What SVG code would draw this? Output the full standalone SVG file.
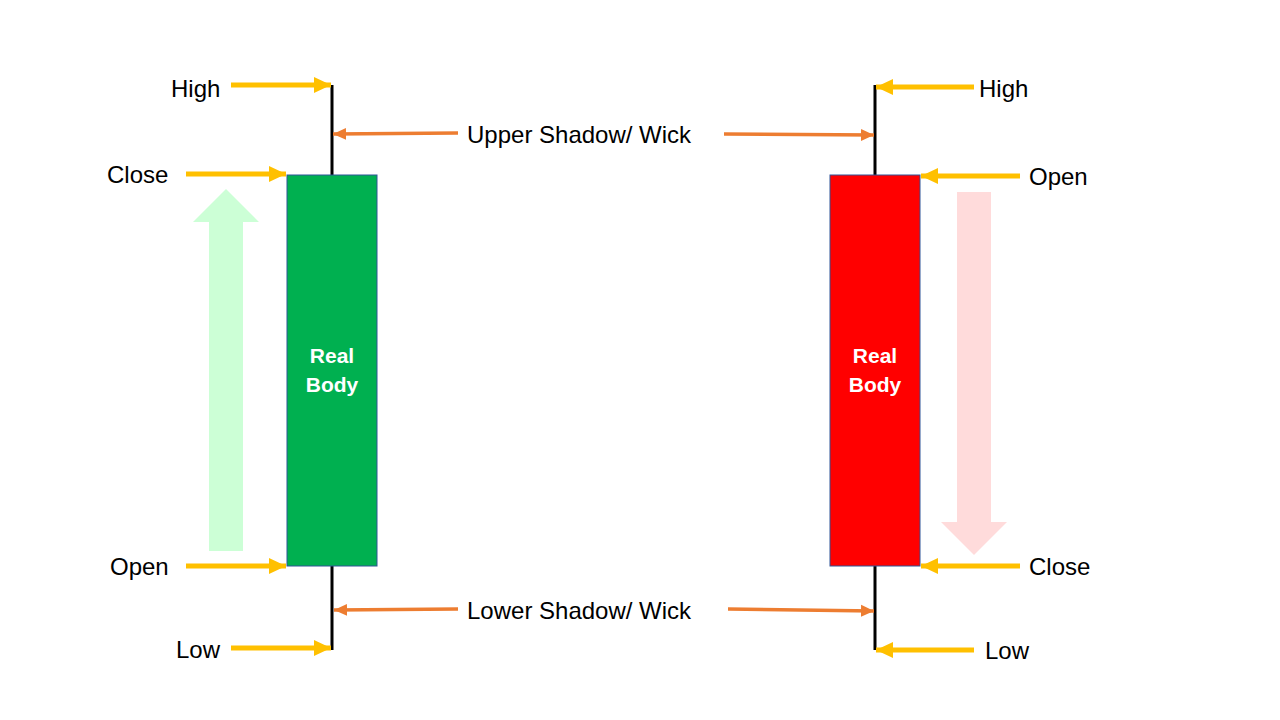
<svg xmlns="http://www.w3.org/2000/svg" width="1280" height="720" viewBox="0 0 1280 720">
<defs>
<marker id="ya" markerUnits="userSpaceOnUse" markerWidth="18" markerHeight="18" refX="17" refY="9" orient="auto"><path d="M0,1 L17,9 L0,17 Z" fill="#FFC000"/></marker>
<marker id="oa" markerUnits="userSpaceOnUse" markerWidth="14" markerHeight="14" refX="13" refY="7" orient="auto"><path d="M0,1 L13,7 L0,13 Z" fill="#ED7D31"/></marker>
</defs>
<style>
.t{font-family:"Liberation Sans",Arial,sans-serif;font-size:24px;fill:#000}
.b{font-family:"Liberation Sans",Arial,sans-serif;font-size:21px;font-weight:bold;fill:#fff;text-anchor:middle}
.y{stroke:#FFC000;stroke-width:5;fill:none;marker-end:url(#ya)}
.o{stroke:#ED7D31;stroke-width:3.5;fill:none;marker-end:url(#oa)}
.w{stroke:#000;stroke-width:3}
</style>
<rect width="1280" height="720" fill="#fff"/>
<g id="bull-direction"><path d="M209,551 V222 H193 L226,189 L259,222 H243 V551 Z" fill="#CCFFD6"/></g>
<g id="bear-direction"><path d="M957,192 V522 H941 L974,555 L1007,522 H991 V192 Z" fill="#FFDBDB"/></g>
<g id="bull-candle">
<line class="w" x1="332" y1="85" x2="332" y2="650"/>
<rect x="287" y="175" width="90" height="391" fill="#00B050" stroke="#2F5597" stroke-width="1"/>
<text class="b" x="332" y="363">Real</text><text class="b" x="332" y="392">Body</text>
</g>
<g id="bear-candle">
<line class="w" x1="875" y1="85" x2="875" y2="650"/>
<rect x="830" y="175" width="90" height="391" fill="#FF0000" stroke="#2F5597" stroke-width="1"/>
<text class="b" x="875" y="363">Real</text><text class="b" x="875" y="392">Body</text>
</g>
<g id="labels">
<text class="t" x="171" y="97">High</text>
<text class="t" x="107" y="183">Close</text>
<text class="t" x="110" y="575">Open</text>
<text class="t" x="176" y="658">Low</text>
<text class="t" x="979" y="97">High</text>
<text class="t" x="1029" y="185">Open</text>
<text class="t" x="1029" y="575">Close</text>
<text class="t" x="985" y="659">Low</text>
<text class="t" x="467" y="143">Upper Shadow/ Wick</text>
<text class="t" x="467" y="619">Lower Shadow/ Wick</text>
</g>
<g id="connectors">
<line class="y" x1="231" y1="85" x2="331" y2="85"/>
<line class="y" x1="186" y1="174" x2="286" y2="174"/>
<line class="y" x1="186" y1="566" x2="286" y2="566"/>
<line class="y" x1="231" y1="648" x2="331" y2="648"/>
<line class="y" x1="974" y1="87" x2="876" y2="87"/>
<line class="y" x1="1020" y1="176" x2="921" y2="176"/>
<line class="y" x1="1020" y1="566" x2="921" y2="566"/>
<line class="y" x1="974" y1="650" x2="876" y2="650"/>
<line class="o" x1="458" y1="133" x2="333" y2="134"/>
<line class="o" x1="724" y1="134" x2="874" y2="135"/>
<line class="o" x1="458" y1="609" x2="334" y2="610"/>
<line class="o" x1="728" y1="609" x2="874" y2="611"/>
</g>
</svg>
